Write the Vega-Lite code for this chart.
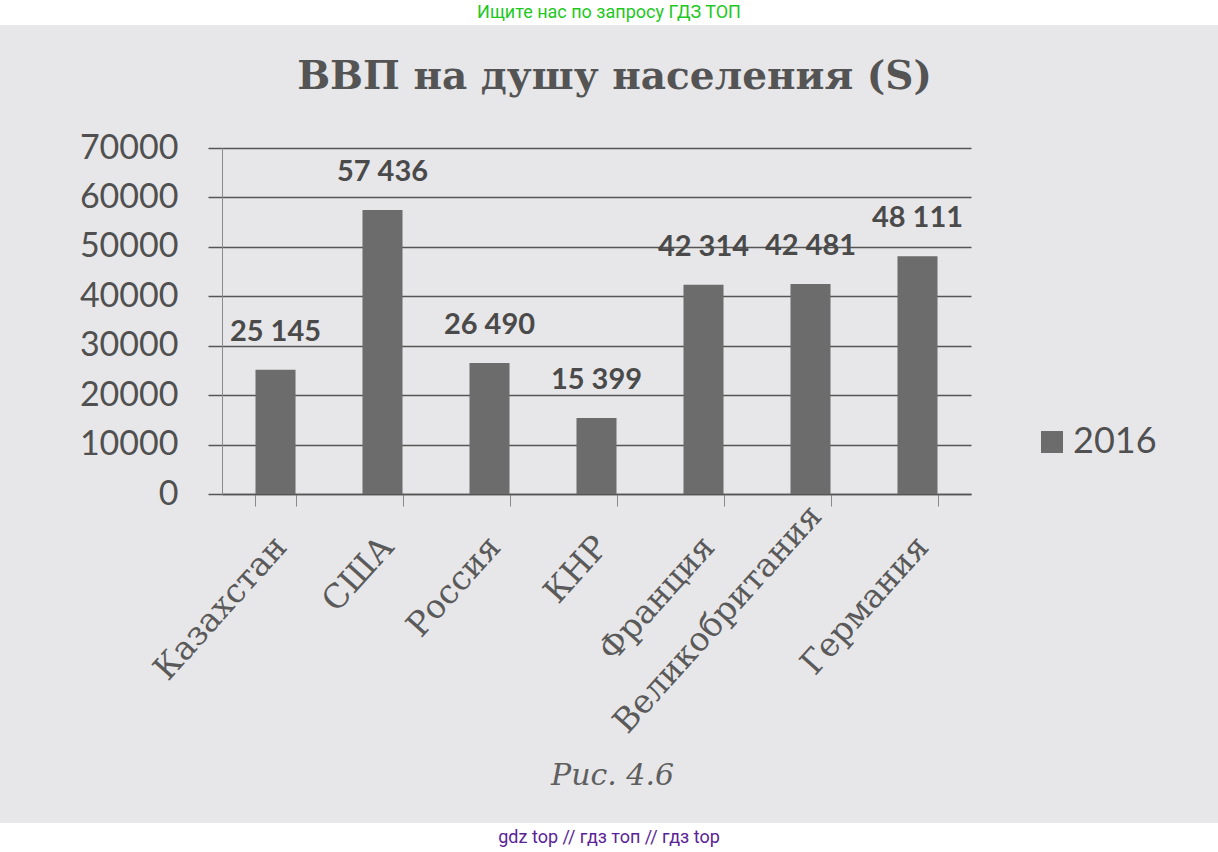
{
  "$schema": "https://vega.github.io/schema/vega-lite/v6.json",
  "background": "#e7e7e9",
  "padding": 0,
  "spacing": 33,
  "resolve": {"legend": {"color": "independent"}, "scale": {"color": "independent"}},
  "config": {
    "view": {"stroke": null},
    "locale": {"number": {"decimal": ",", "thousands": " ", "grouping": [3], "currency": ["", ""]}}
  },
  "vconcat": [
    {
      "width": 1218,
      "height": 25,
      "view": {"fill": "#ffffff", "stroke": null},
      "data": {"values": [{"t": "Ищите нас по запросу ГДЗ ТОП"}]},
      "mark": {"type": "text", "font": "Roboto", "fontSize": 18, "color": "#1ec81e"},
      "encoding": {"text": {"field": "t", "type": "nominal"}}
    },
    {
      "spacing": 0,
      "resolve": {"legend": {"color": "independent"}, "scale": {"color": "independent"}},
      "hconcat": [
        {
          "width": 1,
          "height": 1,
          "data": {"values": []},
          "mark": {"type": "point", "opacity": 0}
        },
        {
          "width": 749,
          "height": 346,
          "title": {
            "text": "ВВП на душу населения (S)",
            "font": "DejaVu Serif",
            "fontSize": 39,
            "fontWeight": "bold",
            "color": "#545454",
            "anchor": "middle",
            "offset": 34,
            "dx": 18
          },
          "data": {
            "values": [
              {"country": "Казахстан", "value": 25145, "year": "2016"},
              {"country": "США", "value": 57436, "year": "2016"},
              {"country": "Россия", "value": 26490, "year": "2016"},
              {"country": "КНР", "value": 15399, "year": "2016"},
              {"country": "Франция", "value": 42314, "year": "2016"},
              {"country": "Великобритания", "value": 42481, "year": "2016"},
              {"country": "Германия", "value": 48111, "year": "2016"}
            ]
          },
          "encoding": {
            "x": {
              "field": "country",
              "type": "nominal",
              "sort": null,
              "scale": {"paddingInner": 0.626, "paddingOuter": 0.313},
              "axis": {
                "title": "Рис. 4.6",
                "labelFont": "DejaVu Serif",
                "labelFontSize": 33,
                "labelAngle": -48,
                "labelAlign": "right",
                "labelBaseline": "middle",
                "labelColor": "#5a5a5a",
                "labelPadding": {"condition": {"test": "datum.value === 'Великобритания'", "value": 4}, "value": 35},
                "labelOffset": 5,
                "labelLimit": 400,
                "tickBand": "extent",
                "tickSize": 12,
                "tickColor": "#8a8a8a",
                "domainColor": "#555555",
                "domainWidth": 1.5,
                "titleFont": "DejaVu Serif",
                "titleFontStyle": "italic",
                "titleFontWeight": "normal",
                "titleFontSize": 30,
                "titleColor": "#5f5f5f",
                "titleBaseline": "middle",
                "titleX": 390,
                "titleY": 281
              }
            },
            "y": {
              "field": "value",
              "type": "quantitative",
              "scale": {"domain": [0, 70000]},
              "axis": {
                "title": null,
                "values": [0, 10000, 20000, 30000, 40000, 50000, 60000, 70000],
                "format": "d",
                "labelFont": "Lato",
                "labelFontSize": 34,
                "labelColor": "#505050",
                "labelPadding": 30,
                "tickSize": 14,
                "tickColor": "#555555",
                "tickWidth": 1.5,
                "gridColor": "#555555",
                "gridWidth": 1.5,
                "gridOpacity": 1,
                "domainColor": "#8a8a8a",
                "minExtent": 221,
                "maxExtent": 260
              }
            }
          },
          "layer": [
            {
              "mark": {"type": "bar"},
              "encoding": {
                "color": {
                  "field": "year",
                  "type": "nominal",
                  "scale": {"range": ["#6c6c6c"]},
                  "legend": {
                    "title": null,
                    "orient": "none",
                    "legendX": 812,
                    "legendY": 276,
                    "symbolType": "square",
                    "symbolSize": 484,
                    "symbolStrokeWidth": 0,
                    "labelFont": "Lato",
                    "labelFontSize": 36,
                    "labelColor": "#505050",
                    "labelOffset": 3,
                    "padding": 0
                  }
                }
              }
            },
            {
              "mark": {
                "type": "text",
                "font": "Lato",
                "fontWeight": "bold",
                "fontSize": 29,
                "color": "#4a4a4a",
                "baseline": "alphabetic",
                "dy": -29
              },
              "encoding": {
                "text": {"field": "value", "type": "quantitative", "format": ",d"}
              }
            }
          ]
        }
      ]
    },
    {
      "width": 1218,
      "height": 29,
      "view": {"fill": "#ffffff", "stroke": null},
      "data": {"values": [{"t": "gdz top  //  гдз топ  //  гдз top"}]},
      "mark": {"type": "text", "font": "Roboto", "fontSize": 18, "color": "#5b2296"},
      "encoding": {"text": {"field": "t", "type": "nominal"}}
    }
  ]
}
